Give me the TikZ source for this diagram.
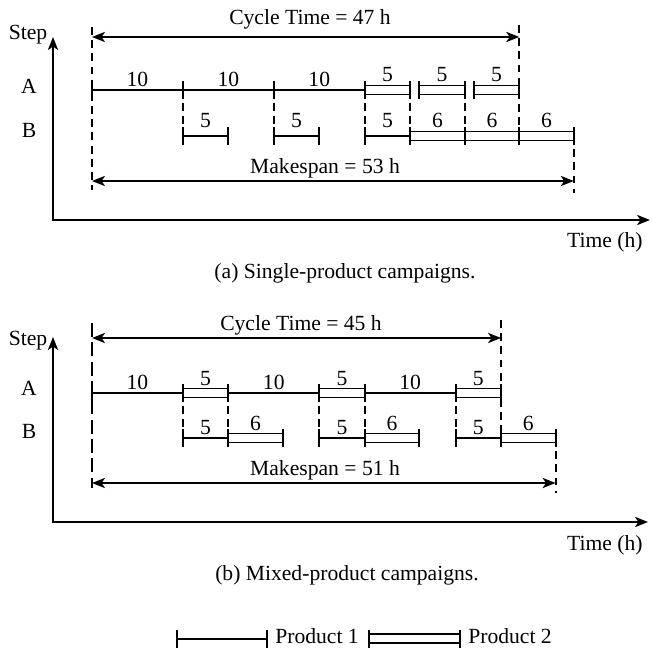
\documentclass[tikz,border=0pt]{standalone}
\usepackage{fontspec}
\setmainfont{Liberation Serif}
\usetikzlibrary{arrows.meta}
\tikzset{
  bar/.style={line width=1.1pt},
  guide/.style={line width=1.1pt, dash pattern=on 4.5pt off 3pt},
  dim/.style={line width=1.1pt, {Stealth[length=7.4pt,width=5.8pt,inset=2pt]}-{Stealth[length=7.4pt,width=5.8pt,inset=2pt]}},
  axis/.style={line width=1.1pt, {Stealth[length=7.4pt,width=5.8pt,inset=2pt]}-{Stealth[length=7.4pt,width=5.8pt,inset=2pt]}},
  num/.style={anchor=base, inner sep=0pt},
  lbl/.style={anchor=base, inner sep=0pt}
}
\newcommand{\tpos}[1]{92+9.09*#1}
\newcommand{\sbar}[5][3.5]{%
  \draw[bar] ({\tpos{#2}},#4) -- ({\tpos{#3}},#4);
  \draw[bar] ({\tpos{#2}},#4-9) -- ({\tpos{#2}},#4+9)
             ({\tpos{#3}},#4-9) -- ({\tpos{#3}},#4+9);
  \node[num] (s#4x#2) at ({(\tpos{#2}+\tpos{#3})/2},#4-#1) {#5};
}
\newcommand{\dbar}[4]{%
  \draw[bar] ({\tpos{#1}},#3-4.5) -- ({\tpos{#2}},#3-4.5)
             ({\tpos{#1}},#3+4.5) -- ({\tpos{#2}},#3+4.5);
  \draw[bar] ({\tpos{#1}},#3-9) -- ({\tpos{#1}},#3+9)
             ({\tpos{#2}},#3-9) -- ({\tpos{#2}},#3+9);
  \node[num] (d#3x#1) at ({(\tpos{#1}+\tpos{#2})/2},#3-8) {#4};
}

\begin{document}
\begin{tikzpicture}[
    x=0.02cm, y=-0.02cm,
    every node/.style={font=\fontsize{12.3}{14}\selectfont}
]
\useasboundingbox (0,0) rectangle (652,652);

% (a) single-product campaigns
\coordinate (ya) at (53,37);
\coordinate (xa) at (650,220);
\draw[axis] (ya) |- (xa);
\node[lbl] (stepa) at (28,40) {Step};
\node[lbl] (rowAa) at (29,93) {A};
\node[lbl] (rowBa) at (29,137) {B};
\node[lbl, anchor=base east] (timea) at (643,247) {Time (h)};

\draw[guide] (92,27) -- (92,190);
\foreach \t in {10,20,30,35,41}
  \draw[guide] ({\tpos{\t}},90) -- ({\tpos{\t}},136);
\draw[guide] ({\tpos{47}},25) -- ({\tpos{47}},136);
\draw[guide] ({\tpos{53}},136) -- ({\tpos{53}},193);

\sbar{0}{10}{90}{10}
\sbar{10}{20}{90}{10}
\sbar{20}{30}{90}{10}
\dbar{30}{35}{90}{5}
\dbar{36}{41}{90}{5}
\dbar{42}{47}{90}{5}
\sbar[8]{10}{15}{136}{5}
\sbar[8]{20}{25}{136}{5}
\sbar[8]{30}{35}{136}{5}
\dbar{35}{41}{136}{6}
\dbar{41}{47}{136}{6}
\dbar{47}{53}{136}{6}

\coordinate (cta) at (92,37);
\coordinate (ctb) at ({\tpos{47}},37);
\draw[dim] (cta) -- (ctb);
\node[lbl] (cyclea) at (310,25) {Cycle Time = 47 h};
\coordinate (msa) at (92,181);
\coordinate (msb) at ({\tpos{53}},181);
\draw[dim] (msa) -- (msb);
\node[lbl] (makea) at (325,173) {Makespan = 53 h};

\node[lbl] (capa) at (345,278) {(a) Single-product campaigns.};

% (b) mixed-product campaigns
\coordinate (yb) at (53,337);
\coordinate (xb) at (648,522);
\draw[axis] (yb) |- (xb);
\node[lbl] (stepb) at (28,345) {Step};
\node[lbl] (rowAb) at (29,395) {A};
\node[lbl] (rowBb) at (29,438) {B};
\node[lbl, anchor=base east] (timeb) at (643,550) {Time (h)};

\draw[guide, dash pattern=on 8pt off 3pt] (92,323) -- (92,488);
\foreach \t in {10,15,25,30,40}
  \draw[guide] ({\tpos{\t}},393) -- ({\tpos{\t}},438);
\draw[guide] ({\tpos{45}},320) -- ({\tpos{45}},438);
\draw[guide] ({\tpos{51}},438) -- ({\tpos{51}},493);

\sbar{0}{10}{393}{10}
\dbar{10}{15}{393}{5}
\sbar{15}{25}{393}{10}
\dbar{25}{30}{393}{5}
\sbar{30}{40}{393}{10}
\dbar{40}{45}{393}{5}
\sbar{10}{15}{438}{5}
\dbar{15}{21}{438}{6}
\sbar{25}{30}{438}{5}
\dbar{30}{36}{438}{6}
\sbar{40}{45}{438}{5}
\dbar{45}{51}{438}{6}

\coordinate (ctc) at (92,338);
\coordinate (ctd) at ({\tpos{45}},338);
\draw[dim] (ctc) -- (ctd);
\node[lbl] (cycleb) at (301,330) {Cycle Time = 45 h};
\coordinate (msc) at (92,483);
\coordinate (msd) at ({\tpos{51}},483);
\draw[dim] (msc) -- (msd);
\node[lbl] (makeb) at (325,475) {Makespan = 51 h};

\node[lbl] (capb) at (347,580) {(b) Mixed-product campaigns.};

% legend
\draw[bar] (177,639) -- (267,639);
\draw[bar] (177,630) -- (177,648) (267,630) -- (267,648);
\node[lbl, anchor=base west] (prod1) at (275,643) {Product 1};
\draw[bar] (369,634) -- (460,634) (369,643) -- (460,643);
\draw[bar] (369,630) -- (369,648) (460,630) -- (460,648);
\node[lbl, anchor=base west] (prod2) at (468,643) {Product 2};
\end{tikzpicture}
\end{document}
